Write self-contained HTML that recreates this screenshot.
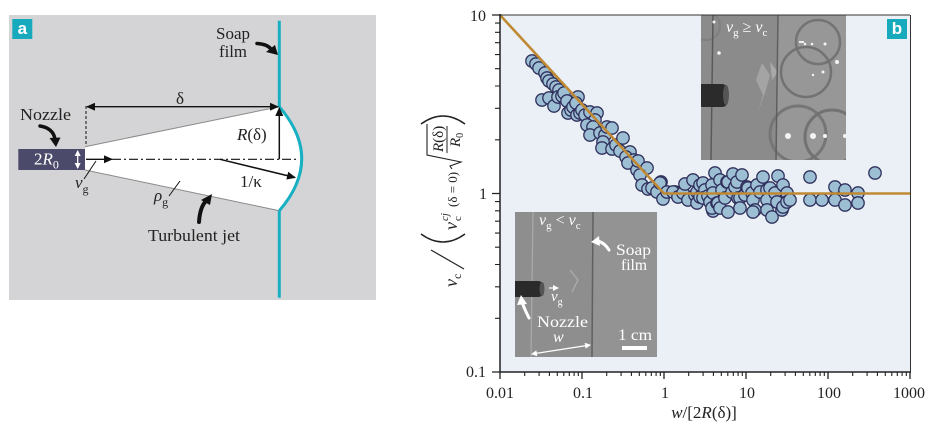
<!DOCTYPE html>
<html><head><meta charset="utf-8"><style>
html,body{margin:0;padding:0;background:#fff;}
svg{display:block;}
text{font-family:"Liberation Serif","DejaVu Serif",serif;}
</style></head><body>
<svg width="933" height="430" viewBox="0 0 933 430" xmlns="http://www.w3.org/2000/svg">
<defs>
<marker id="ah" markerWidth="9" markerHeight="8" refX="8" refY="4" orient="auto-start-reverse" markerUnits="userSpaceOnUse"><path d="M0,0 L9,4 L0,8 z" fill="#111"/></marker>
<marker id="ahw" markerWidth="6" markerHeight="6" refX="5" refY="3" orient="auto-start-reverse" markerUnits="userSpaceOnUse"><path d="M0,0 L6,3 L0,6 z" fill="#fff"/></marker>
<clipPath id="c1"><rect x="701" y="15" width="145" height="145"/></clipPath>
<clipPath id="c2"><rect x="515" y="212" width="142" height="145"/></clipPath>
</defs>

<!-- ================= Panel a ================= -->
<rect x="9" y="15" width="367" height="285" fill="#d4d4d6"/>
<rect x="12.3" y="19" width="20" height="20" fill="#17aabd"/>
<text x="22.3" y="34" font-size="17" font-weight="bold" fill="#fff" text-anchor="middle" style="font-family:'Liberation Sans',sans-serif">a</text>

<path d="M85,146.7 L279.3,106.7 Q324.1,158.7 279.3,210.7 L85,170 Z" fill="#fff"/>
<line x1="85" y1="146.7" x2="279.3" y2="106.7" stroke="#8a8a8a" stroke-width="1"/>
<line x1="85" y1="170" x2="279.3" y2="210.7" stroke="#8a8a8a" stroke-width="1"/>
<line x1="279.3" y1="20.7" x2="279.3" y2="106.7" stroke="#17b0c2" stroke-width="3"/>
<line x1="279.3" y1="210.7" x2="279.3" y2="297.7" stroke="#17b0c2" stroke-width="3"/>
<path d="M279.3,106.7 Q324.1,158.7 279.3,210.7" fill="none" stroke="#17b0c2" stroke-width="3"/>
<rect x="18.3" y="149" width="66.7" height="21" fill="#4b4a6a"/>
<text x="34" y="164.5" font-size="17" fill="#fff">2<tspan font-style="italic">R</tspan><tspan font-size="12" dy="4">0</tspan></text>
<line x1="77.7" y1="151" x2="77.7" y2="168" stroke="#fff" stroke-width="1.3" marker-start="url(#ahw)" marker-end="url(#ahw)"/>
<line x1="86" y1="106" x2="86" y2="146" stroke="#111" stroke-width="1" stroke-dasharray="3,2"/>
<line x1="87" y1="106.7" x2="278" y2="106.7" stroke="#111" stroke-width="1.3" marker-start="url(#ah)" marker-end="url(#ah)"/>
<text x="176" y="104" font-size="17" fill="#222">δ</text>
<line x1="112" y1="159.3" x2="297" y2="159.3" stroke="#111" stroke-width="1.2" stroke-dasharray="9,3,2,3"/>
<line x1="86" y1="159.3" x2="112" y2="159.3" stroke="#111" stroke-width="1.4" marker-end="url(#ah)"/>
<line x1="279.3" y1="159.3" x2="279.3" y2="108" stroke="#111" stroke-width="1.5" marker-end="url(#ah)"/>
<text x="237" y="140" font-size="17" fill="#222"><tspan font-style="italic">R</tspan>(δ)</text>
<line x1="220" y1="159.3" x2="295" y2="177.5" stroke="#111" stroke-width="1.5" marker-end="url(#ah)"/>
<text x="240" y="187" font-size="17" fill="#222">1/κ</text>
<line x1="84" y1="179" x2="96" y2="161" stroke="#111" stroke-width="1"/>
<text x="75" y="188" font-size="17" font-style="italic" fill="#222">v<tspan font-size="12" font-style="normal" dy="5">g</tspan></text>
<line x1="169" y1="196" x2="180" y2="181" stroke="#111" stroke-width="1"/>
<text x="154" y="201" font-size="17" font-style="italic" fill="#222">ρ<tspan font-size="12" font-style="normal" dy="5">g</tspan></text>
<text x="20" y="120" font-size="17" fill="#222" textLength="51" lengthAdjust="spacingAndGlyphs">Nozzle</text>
<text x="216" y="39" font-size="17" fill="#222" textLength="34" lengthAdjust="spacingAndGlyphs">Soap</text>
<text x="219" y="57" font-size="17" fill="#222" textLength="28" lengthAdjust="spacingAndGlyphs">film</text>
<text x="148" y="241" font-size="17" fill="#222" textLength="92" lengthAdjust="spacingAndGlyphs">Turbulent jet</text>
<path d="M40,126 Q53,128 55,139" fill="none" stroke="#111" stroke-width="3.5" stroke-linecap="round"/>
<polygon points="49.5,138 60.5,137.5 56,147" fill="#111"/>
<path d="M257,43.5 Q267,44 271,49" fill="none" stroke="#111" stroke-width="3.5" stroke-linecap="round"/>
<polygon points="266,52 275,45 278,55" fill="#111"/>
<path d="M199,222 Q200,207 206,201" fill="none" stroke="#111" stroke-width="4" stroke-linecap="round"/>
<polygon points="201,200 210,205 212,194" fill="#111"/>

<!-- ================= Panel b ================= -->
<rect x="500" y="15" width="410" height="357" fill="#eaf0f5"/>

<!-- scatter -->
<g fill="#9dbfd4" stroke="#2f2f5c" stroke-width="1.3">
<circle cx="532" cy="61" r="6.2"/><circle cx="536" cy="64" r="6.2"/><circle cx="539" cy="68" r="6.2"/><circle cx="545" cy="73" r="6.2"/><circle cx="547" cy="78" r="6.2"/><circle cx="549" cy="81" r="6.2"/>
<circle cx="553" cy="84" r="6.2"/><circle cx="556" cy="87" r="6.2"/><circle cx="559" cy="90" r="6.2"/><circle cx="542" cy="100" r="6.2"/><circle cx="549" cy="98" r="6.2"/>
<circle cx="554" cy="106" r="6.2"/><circle cx="558" cy="97" r="6.2"/><circle cx="562" cy="96" r="6.2"/><circle cx="564" cy="93" r="6.2"/><circle cx="567" cy="101" r="6.2"/>
<circle cx="568" cy="113" r="6.2"/><circle cx="571" cy="110" r="6.2"/><circle cx="573" cy="107" r="6.2"/><circle cx="577" cy="115" r="6.2"/><circle cx="578" cy="97" r="6.2"/>
<circle cx="576" cy="103" r="6.2"/><circle cx="580" cy="113" r="6.2"/><circle cx="582" cy="110" r="6.2"/><circle cx="585" cy="115" r="6.2"/><circle cx="590" cy="112" r="6.2"/>
<circle cx="597" cy="113" r="6.2"/><circle cx="595" cy="120" r="6.2"/><circle cx="587" cy="125" r="6.2"/><circle cx="593" cy="127" r="6.2"/><circle cx="590" cy="135" r="6.2"/>
<circle cx="600" cy="133" r="6.2"/><circle cx="605" cy="135" r="6.2"/><circle cx="607" cy="127" r="6.2"/><circle cx="612" cy="128" r="6.2"/><circle cx="603" cy="142" r="6.2"/>
<circle cx="602" cy="148" r="6.2"/><circle cx="612" cy="149" r="6.2"/><circle cx="616" cy="145" r="6.2"/><circle cx="620" cy="151" r="6.2"/><circle cx="623" cy="138" r="6.2"/>
<circle cx="630" cy="152" r="6.2"/><circle cx="626" cy="157" r="6.2"/><circle cx="634" cy="160" r="6.2"/><circle cx="628" cy="163" r="6.2"/><circle cx="637" cy="170" r="6.2"/>
<circle cx="638" cy="161" r="6.2"/><circle cx="647" cy="168" r="6.2"/><circle cx="640" cy="175" r="6.2"/><circle cx="642" cy="185" r="6.2"/><circle cx="648" cy="189" r="6.2"/>
<circle cx="652" cy="188" r="6.2"/><circle cx="657" cy="192" r="6.2"/><circle cx="661" cy="182" r="6.2"/><circle cx="660" cy="183" r="6.2"/><circle cx="663" cy="199" r="6.2"/>
<circle cx="667" cy="192" r="6.2"/><circle cx="675" cy="192" r="6.2"/><circle cx="673" cy="192" r="6.2"/><circle cx="678" cy="197" r="6.2"/><circle cx="683" cy="193" r="6.2"/><circle cx="685" cy="184" r="6.2"/>
<circle cx="688" cy="200" r="6.2"/><circle cx="693" cy="180" r="6.2"/><circle cx="695" cy="195" r="6.2"/><circle cx="697" cy="192" r="6.2"/><circle cx="697" cy="203" r="6.2"/>
<circle cx="700" cy="185" r="6.2"/><circle cx="700" cy="197" r="6.2"/><circle cx="703" cy="183" r="6.2"/><circle cx="705" cy="190" r="6.2"/><circle cx="703" cy="198" r="6.2"/><circle cx="708" cy="196" r="6.2"/>
<circle cx="710" cy="202" r="6.2"/><circle cx="712" cy="185" r="6.2"/><circle cx="715" cy="173" r="6.2"/><circle cx="713" cy="193" r="6.2"/><circle cx="713" cy="211" r="6.2"/><circle cx="712" cy="208" r="6.2"/><circle cx="717" cy="203" r="6.2"/>
<circle cx="718" cy="203" r="6.2"/><circle cx="720" cy="180" r="6.2"/><circle cx="720" cy="208" r="6.2"/><circle cx="722" cy="190" r="6.2"/><circle cx="725" cy="198" r="6.2"/><circle cx="727" cy="182" r="6.2"/><circle cx="728" cy="212" r="6.2"/>
<circle cx="728" cy="182" r="6.2"/><circle cx="732" cy="192" r="6.2"/><circle cx="733" cy="174" r="6.2"/><circle cx="735" cy="187" r="6.2"/><circle cx="737" cy="182" r="6.2"/><circle cx="742" cy="175" r="6.2"/>
<circle cx="738" cy="198" r="6.2"/><circle cx="740" cy="198" r="6.2"/><circle cx="740" cy="208" r="6.2"/><circle cx="745" cy="195" r="6.2"/><circle cx="747" cy="187" r="6.2"/><circle cx="748" cy="188" r="6.2"/>
<circle cx="752" cy="193" r="6.2"/><circle cx="753" cy="200" r="6.2"/><circle cx="755" cy="210" r="6.2"/><circle cx="753" cy="212" r="6.2"/><circle cx="757" cy="185" r="6.2"/><circle cx="760" cy="192" r="6.2"/>
<circle cx="763" cy="177" r="6.2"/><circle cx="767" cy="190" r="6.2"/><circle cx="767" cy="200" r="6.2"/><circle cx="770" cy="188" r="6.2"/><circle cx="767" cy="210" r="6.2"/>
<circle cx="772" cy="217" r="6.2"/><circle cx="775" cy="193" r="6.2"/><circle cx="777" cy="202" r="6.2"/><circle cx="778" cy="176" r="6.2"/><circle cx="782" cy="210" r="6.2"/>
<circle cx="783" cy="185" r="6.2"/><circle cx="783" cy="207" r="6.2"/><circle cx="787" cy="193" r="6.2"/><circle cx="787" cy="202" r="6.2"/>
<circle cx="790" cy="200" r="6.2"/>
<circle cx="810" cy="177" r="6.2"/><circle cx="810" cy="200" r="6.2"/><circle cx="822" cy="200" r="6.2"/><circle cx="835" cy="187" r="6.2"/>
<circle cx="835" cy="200" r="6.2"/><circle cx="845" cy="190" r="6.2"/><circle cx="845" cy="205" r="6.2"/><circle cx="858" cy="193" r="6.2"/>
<circle cx="858" cy="203" r="6.2"/><circle cx="875" cy="173" r="6.2"/>
</g>

<polyline points="500,15 664,193.5 910,193.5" fill="none" stroke="#c08a35" stroke-width="2.6"/>

<!-- top inset photo -->
<g clip-path="url(#c1)">
<rect x="701" y="15" width="145" height="145" fill="#8b8b8b"/>
<rect x="777" y="15" width="69" height="145" fill="#979797"/>
<circle cx="818" cy="42" r="22" fill="none" stroke="#747474" stroke-width="2.5"/>
<circle cx="806" cy="72" r="25" fill="none" stroke="#727272" stroke-width="2.5"/>
<circle cx="798" cy="134" r="28" fill="none" stroke="#767676" stroke-width="3"/>
<circle cx="832" cy="137" r="27" fill="none" stroke="#727272" stroke-width="3"/>
<circle cx="706" cy="26" r="14" fill="none" stroke="#808080" stroke-width="2"/>
<path d="M762,63 L770,75 L766,90 L758,112 L763,95 L756,80 Z" fill="#aaaaaa" opacity="0.8"/>
<path d="M770,62 L778,72 L772,80 Z" fill="#b0b0b0" opacity="0.8"/>
<line x1="713" y1="15" x2="711" y2="160" stroke="#5a5a5a" stroke-width="1.5"/>
<line x1="778" y1="15" x2="776" y2="160" stroke="#5f5f5f" stroke-width="1.5"/>
<rect x="695" y="84" width="33" height="23" rx="6" fill="#2b2b2b"/>
<ellipse cx="726" cy="95" rx="3" ry="10" fill="#555"/>
<g fill="#f4f4f4">
<circle cx="714" cy="22" r="1.5"/><circle cx="805" cy="44" r="1.3"/><circle cx="812" cy="44" r="1.3"/><circle cx="825" cy="44" r="1.5"/>
<circle cx="837" cy="62" r="2"/><circle cx="813" cy="75" r="1.2"/><circle cx="823" cy="72" r="1.5"/><circle cx="788" cy="136" r="3"/>
<circle cx="813" cy="136" r="3"/><circle cx="825" cy="136" r="2"/><circle cx="845" cy="136" r="2"/><circle cx="719" cy="53" r="1.8"/>
</g>
<rect x="799" y="41" width="5" height="2" fill="#eee"/>
<text x="726" y="32" font-size="16" font-style="italic" fill="#fff">v<tspan font-size="11" font-style="normal" dy="4">g</tspan><tspan dy="-4" font-style="normal"> ≥ </tspan>v<tspan font-size="11" font-style="normal" dy="4">c</tspan></text>
</g>

<!-- bottom inset photo -->
<g clip-path="url(#c2)">
<rect x="515" y="212" width="142" height="145" fill="#8e8e8e"/>
<rect x="592" y="212" width="65" height="145" fill="#939393"/>
<line x1="533" y1="212" x2="531" y2="357" stroke="#aaaaaa" stroke-width="1.2"/>
<line x1="593" y1="212" x2="592" y2="357" stroke="#606060" stroke-width="1.5"/>
<path d="M570,270 L578,280 L572,292" fill="none" stroke="#a8a8a8" stroke-width="1.5"/>
<rect x="508" y="281" width="36" height="16" rx="6" fill="#2a2a2a"/>
<ellipse cx="542" cy="289" rx="2.5" ry="7" fill="#555"/>
<text x="539" y="225" font-size="16" font-style="italic" fill="#fff">v<tspan font-size="11" font-style="normal" dy="4">g</tspan><tspan dy="-4" font-style="normal"> &lt; </tspan>v<tspan font-size="11" font-style="normal" dy="4">c</tspan></text>
<text x="616" y="255" font-size="16" fill="#fff" textLength="35" lengthAdjust="spacingAndGlyphs">Soap</text>
<text x="621" y="270" font-size="16" fill="#fff" textLength="26" lengthAdjust="spacingAndGlyphs">film</text>
<path d="M609,250 Q604,242 597,241" fill="none" stroke="#fff" stroke-width="3" stroke-linecap="round"/>
<polygon points="599,236 591,242 600,246" fill="#fff"/>
<line x1="549" y1="288" x2="558" y2="288" stroke="#fff" stroke-width="1.2" marker-end="url(#ahw)"/>
<text x="551" y="301" font-size="15" font-style="italic" fill="#fff">v<tspan font-size="10" font-style="normal" dy="4">g</tspan></text>
<path d="M529,318 Q524,308 522,302" fill="none" stroke="#fff" stroke-width="3" stroke-linecap="round"/>
<polygon points="517,305 521,295 527,304" fill="#fff"/>
<text x="537" y="327" font-size="16" fill="#fff" textLength="51" lengthAdjust="spacingAndGlyphs">Nozzle</text>
<text x="553" y="342" font-size="16" font-style="italic" fill="#fff">w</text>
<line x1="532" y1="354" x2="590" y2="345" stroke="#fff" stroke-width="1.2" marker-start="url(#ahw)" marker-end="url(#ahw)"/>
<text x="618" y="340" font-size="16" fill="#fff" textLength="34" lengthAdjust="spacingAndGlyphs">1 cm</text>
<rect x="622" y="346" width="25" height="4" fill="#fff"/>
</g>

<rect x="887" y="19" width="20" height="20" fill="#17aabd"/>
<text x="897" y="34" font-size="17" font-weight="bold" fill="#fff" text-anchor="middle" style="font-family:'Liberation Sans',sans-serif">b</text>

<!-- frame -->
<line x1="500" y1="15" x2="910" y2="15" stroke="#333" stroke-width="1"/>
<line x1="910.5" y1="15" x2="910.5" y2="372" stroke="#333" stroke-width="1"/>
<line x1="500" y1="14" x2="500" y2="372.7" stroke="#222" stroke-width="1.5"/>
<line x1="499.3" y1="372" x2="911" y2="372" stroke="#222" stroke-width="1.5"/>

<path d="M500,372V379M582,372V379M664,372V379M746,372V379M828,372V379M910,372V379" stroke="#222" stroke-width="1.3"/>
<path d="M524.7,372V376M539.1,372V376M549.4,372V376M557.3,372V376M563.8,372V376M569.3,372V376M574.1,372V376M578.3,372V376
M606.7,372V376M621.1,372V376M631.4,372V376M639.3,372V376M645.8,372V376M651.3,372V376M656.1,372V376M660.3,372V376
M688.7,372V376M703.1,372V376M713.4,372V376M721.3,372V376M727.8,372V376M733.3,372V376M738.1,372V376M742.3,372V376
M770.7,372V376M785.1,372V376M795.4,372V376M803.3,372V376M809.8,372V376M815.3,372V376M820.1,372V376M824.3,372V376
M852.7,372V376M867.1,372V376M877.4,372V376M885.3,372V376M891.8,372V376M897.3,372V376M902.1,372V376M906.3,372V376" stroke="#222" stroke-width="1.1"/>
<path d="M500,15H492M500,193.5H492M500,372H492" stroke="#222" stroke-width="1.3"/>
<path d="M500,318.3H495M500,286.8H495M500,264.5H495M500,247.2H495M500,233.1H495M500,221.2H495M500,210.8H495M500,201.6H495
M500,139.8H495M500,108.3H495M500,86H495M500,68.7H495M500,54.6H495M500,42.7H495M500,32.3H495M500,23.1H495" stroke="#222" stroke-width="1.1"/>

<g font-size="16" fill="#222">
<text x="486" y="21" text-anchor="end">10</text>
<text x="487" y="199" text-anchor="end">1</text>
<text x="486" y="377" text-anchor="end">0.1</text>
<text x="500" y="398" text-anchor="middle">0.01</text>
<text x="583" y="398" text-anchor="middle">0.1</text>
<text x="665" y="398" text-anchor="middle">1</text>
<text x="747" y="398" text-anchor="middle">10</text>
<text x="829" y="398" text-anchor="middle">100</text>
<text x="909" y="398" text-anchor="middle">1000</text>
</g>

<text x="704" y="418" font-size="17" fill="#222" text-anchor="middle"><tspan font-style="italic">w</tspan>/[2<tspan font-style="italic">R</tspan>(δ)]</text>

<g transform="translate(448,198) rotate(-90)" fill="#222">
<text x="-89" y="9" font-size="18" font-style="italic">v<tspan font-size="12" font-style="normal" dy="4">c</tspan></text>
<line x1="-71" y1="16" x2="-52" y2="-17" stroke="#222" stroke-width="1.2"/>
<path d="M-36,-27 Q-52,-5 -36,17" fill="none" stroke="#222" stroke-width="1.4"/>
<text x="-32" y="9" font-size="18" font-style="italic">v</text>
<text x="-23" y="13" font-size="11">c</text>
<text x="-23" y="0" font-size="11" font-style="italic">cj</text>
<text x="-9" y="9" font-size="13">(δ = 0)</text>
<path d="M29,4 L32,2 L36,13 L43,-21 L74,-21" fill="none" stroke="#222" stroke-width="1.1"/>
<text x="46" y="-5" font-size="15"><tspan font-style="italic">R</tspan>(δ)</text>
<line x1="45" y1="-1" x2="72" y2="-1" stroke="#222" stroke-width="1"/>
<text x="51" y="12" font-size="15" font-style="italic">R<tspan font-size="10" font-style="normal" dy="3">0</tspan></text>
<path d="M74,-27 Q90,-5 74,17" fill="none" stroke="#222" stroke-width="1.4"/>
</g>
</svg>
</body></html>
